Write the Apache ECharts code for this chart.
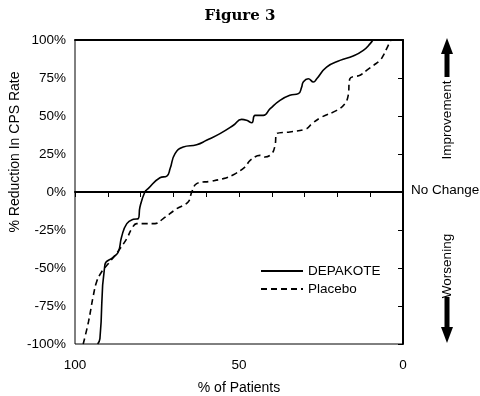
<!DOCTYPE html>
<html><head><meta charset="utf-8">
<script src="https://cdn.jsdelivr.net/npm/echarts@6/dist/echarts.min.js"></script>
<style>html,body{margin:0;padding:0;background:#fff}#c{width:480px;height:396px}</style>
</head><body><div id="c"></div>
<script>
const depakoteX = [93.1, 92.4, 90.9, 88.3, 86.8, 85.8, 84.2, 82.2, 80.7, 80.2, 78.7, 77.7, 74.1, 72, 71, 69.5, 67, 62.9, 59.9, 55.8, 51.7, 49.2, 47.7, 46.1, 45.1, 42.6, 40.5, 37.5, 34.5, 31.9, 30.9, 30.4, 28.9, 27.3, 26.3, 23.3, 19.2, 15.2, 12.1, 10, 9.2];
const depakoteY = [-100, -96.5, -48, -42.8, -39.5, -29.6, -20.8, -18, -17.5, -9.9, 0, 2.2, 9.4, 10.5, 15.4, 25.2, 29.6, 31.1, 34, 38.4, 43.9, 47.8, 47.2, 45.6, 50.4, 50.4, 54.8, 60.3, 63.6, 64.7, 69, 72.4, 74.5, 72.4, 74.5, 82.2, 86.6, 89.5, 93.2, 97.6, 100];
const placeboX = [97.5, 95.9, 94.4, 93.4, 91.9, 89.8, 87.8, 86.3, 84.2, 82.7, 81.2, 78.1, 75.6, 73.1, 69, 65.5, 64.4, 62.9, 58.8, 54.8, 51.7, 48.2, 46.6, 43.6, 42.1, 40, 39, 38.5, 34.5, 29.4, 27.8, 24.8, 20.2, 17.7, 16.7, 16.2, 13.1, 11.1, 9, 7, 6, 4.5, 3.7];
const placeboY = [-100, -85.5, -68, -59, -52.6, -47, -41.7, -37.3, -30.7, -24.1, -20.8, -20.8, -20.8, -17.5, -11, -6.6, 0, 5.5, 7, 8.8, 11.4, 16.4, 20.8, 24.1, 23, 25.2, 30.7, 38.4, 39.5, 41.6, 44.9, 49.3, 53.7, 58.1, 63.6, 74.5, 76.8, 80, 83.3, 86.6, 89.9, 96.5, 100];
const xLabelShown = [0, 50, 100];
const seriesNames = ['DEPAKOTE', 'Placebo'];

const FONT = 'Liberation Sans';
const pair = (xs, ys) => xs.map((x, i) => [x, ys[i]]);
const chart = echarts.init(document.getElementById('c'), null, {renderer: 'canvas'});
chart.setOption({
  animation: false,
  backgroundColor: '#fff',
  title: {text: 'Figure 3', left: 'center', top: 4,
    textStyle: {fontFamily: 'DejaVu Serif', fontWeight: 'bold', fontSize: 15, color: '#000'}},
  grid: {left: 75, right: 77, top: 40, bottom: 52, show: true, borderColor: '#000', borderWidth: 1,
    containLabel: false, outerBoundsMode: 'none'},
  legend: {orient: 'vertical', left: 255, top: 259, itemWidth: 42, itemHeight: 10, itemGap: 4,
    itemStyle: {opacity: 0},
    textStyle: {fontFamily: FONT, fontSize: 13.5, color: '#000'},
    data: seriesNames},
  xAxis: [{
    type: 'value', inverse: true, min: 0, max: 100, interval: 10,
    name: '% of Patients', nameLocation: 'middle', nameGap: 37,
    nameTextStyle: {fontFamily: FONT, fontSize: 14, color: '#000'},
    axisLine: {lineStyle: {color: '#000', width: 2}},
    axisTick: {inside: false, length: 5, lineStyle: {color: '#000', width: 1}},
    axisLabel: {fontFamily: FONT, fontSize: 13.5, color: '#000', margin: 14,
      formatter: v => xLabelShown.includes(v) ? String(v) : ''},
    splitLine: {show: false}
  }, {
    type: 'value', position: 'top', inverse: true, min: 0, max: 100,
    axisLine: {show: true, lineStyle: {color: '#000', width: 2}},
    axisTick: {show: false}, axisLabel: {show: false}, splitLine: {show: false}
  }],
  yAxis: {
    type: 'value', min: -100, max: 100, interval: 25,
    axisLine: {show: true, lineStyle: {color: '#000', width: 2}},
    axisTick: {show: true, inside: false, length: 5, lineStyle: {color: '#000', width: 1}},
    axisLabel: {fontFamily: FONT, fontSize: 13.5, color: '#000', margin: 9, formatter: v => v + '%'},
    splitLine: {show: false}
  },
  series: [{
    name: seriesNames[0], type: 'line', data: pair(depakoteX, depakoteY), symbol: 'none',
    smooth: 0.5,
    lineStyle: {color: '#000', width: 1.6, type: 'solid'}, itemStyle: {color: '#000'},
    markLine: {silent: true, symbol: 'none', label: {show: false},
      lineStyle: {color: '#000', width: 1, type: 'solid'}, data: [{yAxis: 0}]}
  }, {
    name: seriesNames[1], type: 'line', data: pair(placeboX, placeboY), symbol: 'none',
    smooth: 0.4,
    lineStyle: {color: '#000', width: 1.6, type: [6, 4]}, itemStyle: {color: '#000'}
  }],
  graphic: [
    {type: 'text', x: 15, y: 152, rotation: Math.PI / 2, style: {text: '% Reduction In CPS Rate', font: '14px Liberation Sans', fill: '#000', align: 'center', verticalAlign: 'middle'}},
    {type: 'text', left: 411, top: 183, style: {text: 'No Change', font: '13.5px Liberation Sans', fill: '#000'}},
    {type: 'text', x: 447, y: 120, rotation: Math.PI / 2, style: {text: 'Improvement', font: '13.5px Liberation Sans', fill: '#000', align: 'center', verticalAlign: 'middle'}},
    {type: 'text', x: 447, y: 266, rotation: Math.PI / 2, style: {text: 'Worsening', font: '13.5px Liberation Sans', fill: '#000', align: 'center', verticalAlign: 'middle'}},
    {type: 'polygon', shape: {points: [[447, 38], [453, 54], [449.5, 54], [449.5, 77], [444.5, 77], [444.5, 54], [441, 54]]}, style: {fill: '#000'}},
    {type: 'polygon', shape: {points: [[447, 343], [453, 327], [449.5, 327], [449.5, 297], [444.5, 297], [444.5, 327], [441, 327]]}, style: {fill: '#000'}}
  ]
});
</script></body></html>
